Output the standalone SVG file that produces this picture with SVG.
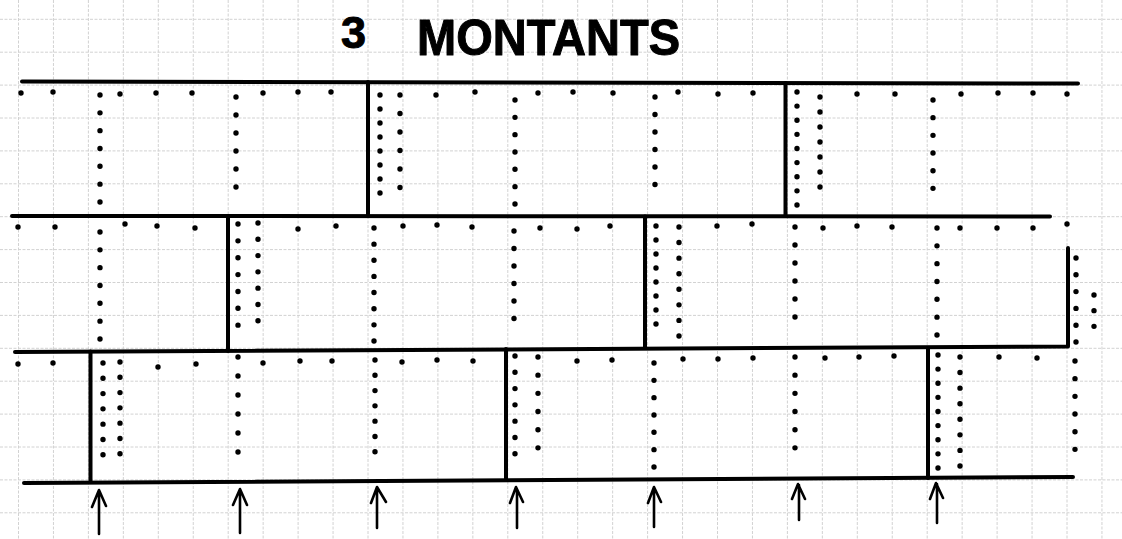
<svg xmlns="http://www.w3.org/2000/svg" width="1122" height="539" viewBox="0 0 1122 539">
<style>
.grid{fill:none;stroke:#d2d2d2;stroke-width:1;stroke-dasharray:3 1.5}
.wall{fill:none;stroke:#000;stroke-width:4;stroke-linecap:round;stroke-linejoin:round}
.dots{fill:none;stroke:#000;stroke-width:5.4;stroke-linecap:round}
.arrow{fill:none;stroke:#000;stroke-width:2.6;stroke-linecap:round;stroke-linejoin:round}
.title{font-family:"Liberation Sans",Arial,sans-serif;font-weight:bold;fill:#000;stroke:#000;stroke-width:1;stroke-linejoin:round}
</style>
<rect width="1122" height="539" fill="#fff"/>
<g id="grid">
<path class="grid" d="M18.5 0V539M53.45 0V539M88.4 0V539M123.35 0V539M158.3 0V539M193.25 0V539M228.2 0V539M263.15 0V539M298.1 0V539M333.05 0V539M368 0V539M402.95 0V539M437.9 0V539M472.85 0V539M507.8 0V539M542.75 0V539M577.7 0V539M612.65 0V539M647.6 0V539M682.55 0V539M717.5 0V539M752.45 0V539M787.4 0V539M822.35 0V539M857.3 0V539M892.25 0V539M927.2 0V539M962.15 0V539M997.1 0V539M1032.05 0V539M1067 0V539M1101.95 0V539"/>
<path class="grid" d="M0 19.3H1122M0 52.2H1122M0 85.1H1122M0 118H1122M0 150.9H1122M0 183.8H1122M0 216.7H1122M0 249.6H1122M0 282.5H1122M0 315.4H1122M0 348.3H1122M0 381.2H1122M0 414.1H1122M0 447H1122M0 479.9H1122M0 512.8H1122"/>
</g>
<g id="title">
<text class="title"><tspan x="341" y="48" font-size="45">3</tspan> <tspan x="417" y="55" font-size="50" textLength="263" lengthAdjust="spacingAndGlyphs">MONTANTS</tspan></text>
</g>
<g id="walls">
<path class="wall" d="M22 81.5L1078 83.5"/>
<path class="wall" d="M12 216L1050 216.5"/>
<path class="wall" d="M15 352L1068 346.5V248"/>
<path class="wall" d="M24 483L1073 477"/>
<path class="wall" d="M368 82V216M785.5 83V216"/>
<path class="wall" d="M228 216V351M645 216.5V348"/>
<path class="wall" d="M90.5 351.5V482M506 349V480M928 348V478"/>
</g>
<g id="row1-dots">
<path class="dots" d="M21 93h0M53 92h0M120 94h0M156 93h0M192 93h0M263 93h0M298 92h0M331 92h0M436 95h0M475 92h0M538 93h0M573 92h0M613 93h0M678 92h0M718 94h0M753 93h0M857 94h0M895 94h0M961 94h0M998 93h0M1033 93h0M1067 94h0"/>
<path class="dots" stroke-dasharray="0 17.83" d="M100 95V202"/>
<path class="dots" stroke-dasharray="0 18" d="M236 97V205"/>
<path class="dots" stroke-dasharray="0 14" d="M380 95V207"/>
<path class="dots" stroke-dasharray="0 18.5" d="M400 95V206"/>
<path class="dots" stroke-dasharray="0 17.33" d="M515 100V204"/>
<path class="dots" stroke-dasharray="0 17.5" d="M655 97V202"/>
<path class="dots" stroke-dasharray="0 14.12" d="M797 92V205"/>
<path class="dots" stroke-dasharray="0 15" d="M820 97V202"/>
<path class="dots" stroke-dasharray="0 17.67" d="M933 100V206"/>
</g>
<g id="row2-dots">
<path class="dots" d="M18 227h0M55 227h0M125 224h0M157 226h0M195 228h0M298 229h0M336 226h0M403 226h0M437 225h0M472 227h0M540 228h0M577 229h0M610 226h0M717 226h0M752 224h0M823 228h0M857 226h0M892 227h0M960 228h0M997 228h0M1033 228h0M1067 224h0"/>
<path class="dots" stroke-dasharray="0 17.83" d="M100 232V339"/>
<path class="dots" stroke-dasharray="0 16.86" d="M238 224V342"/>
<path class="dots" stroke-dasharray="0 16.29" d="M258 223V337"/>
<path class="dots" stroke-dasharray="0 16.14" d="M374 228V341"/>
<path class="dots" stroke-dasharray="0 17.5" d="M514 231V336"/>
<path class="dots" stroke-dasharray="0 14" d="M656 226V338"/>
<path class="dots" stroke-dasharray="0 15.57" d="M679 227V336"/>
<path class="dots" stroke-dasharray="0 18" d="M795 227V335"/>
<path class="dots" stroke-dasharray="0 17.83" d="M937 228V335"/>
<path class="dots" stroke-dasharray="0 16.8" d="M1076 258V342"/>
<path class="dots" stroke-dasharray="0 15.67" d="M1094 295V342"/>
</g>
<g id="row3-dots">
<path class="dots" d="M18 364h0M53 363h0M158 367h0M196 364h0M263 363h0M300 361h0M332 361h0M402 362h0M437 360h0M473 361h0M577 361h0M612 360h0M683 359h0M718 359h0M753 358h0M825 358h0M859 357h0M894 356h0M999 357h0M1037 358h0"/>
<path class="dots" stroke-dasharray="0 15.29" d="M103 363V470"/>
<path class="dots" stroke-dasharray="0 15.29" d="M120 362V469"/>
<path class="dots" stroke-dasharray="0 19" d="M238 357V471"/>
<path class="dots" stroke-dasharray="0 15.29" d="M375 360V467"/>
<path class="dots" stroke-dasharray="0 16.29" d="M515 356V470"/>
<path class="dots" stroke-dasharray="0 18.17" d="M538 357V466"/>
<path class="dots" stroke-dasharray="0 17.33" d="M654 363V467"/>
<path class="dots" stroke-dasharray="0 18.17" d="M795 357V466"/>
<path class="dots" stroke-dasharray="0 14.12" d="M938 355V468"/>
<path class="dots" stroke-dasharray="0 15.57" d="M960 357V466"/>
<path class="dots" stroke-dasharray="0 17.67" d="M1075 361V467"/>
</g>
<g id="arrows">
<path class="arrow" d="M99 534V491M92 507L99 490L106 506"/>
<path class="arrow" d="M240 533V490M233 505L240 489L247 505"/>
<path class="arrow" d="M377 528V489M371 503L377 487L386 502"/>
<path class="arrow" d="M517 528V489M510 503L516 487L523 502"/>
<path class="arrow" d="M654 527V489M648 503L654 487L661 502"/>
<path class="arrow" d="M799 520V485M792 499L798 484L805 499"/>
<path class="arrow" d="M937 523V484M930 499L936 483L943 498"/>
</g>
</svg>
